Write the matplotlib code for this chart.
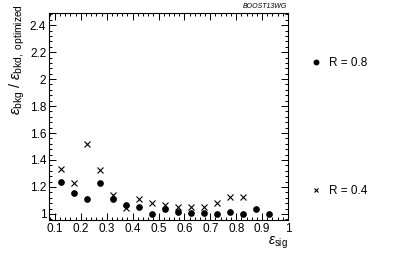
"""Background-efficiency ratio vs signal efficiency, two jet radii (ROOT-style frame)."""

import matplotlib
matplotlib.use("Agg")
import matplotlib.pyplot as plt
from matplotlib.ticker import MultipleLocator

plt.rcParams["font.family"] = ["Liberation Sans", "DejaVu Sans"]
plt.rcParams["mathtext.fontset"] = "custom"
plt.rcParams["mathtext.rm"] = "Liberation Sans"
plt.rcParams["mathtext.it"] = "Liberation Sans:italic"

eff_sig = [0.125, 0.175, 0.225, 0.275, 0.325, 0.375, 0.425, 0.475, 0.525,
           0.575, 0.625, 0.675, 0.725, 0.775, 0.825, 0.875, 0.925]
ratio_r08 = [1.235, 1.153, 1.111, 1.227, 1.111, 1.064, 1.050, 1.000, 1.037,
             1.017, 1.007, 1.010, 1.002, 1.017, 1.000, 1.040, 1.000]
eff_sig_r04 = eff_sig[:15]
ratio_r04 = [1.333, 1.232, 1.520, 1.328, 1.138, 1.047, 1.114, 1.079, 1.069,
             1.054, 1.050, 1.050, 1.084, 1.128, 1.123]

fig = plt.figure(figsize=(3.99, 2.54), dpi=100)
ax = fig.add_axes([0.1228, 0.1339, 0.599, 0.8149])

p1, = ax.plot(eff_sig, ratio_r08, ls="none", marker="o", ms=3.8,
              color="black", label="R = 0.8")
p2, = ax.plot(eff_sig_r04, ratio_r04, ls="none", marker="x", ms=4.2,
              mew=0.8, color="black", label="R = 0.4")

ax.set_xlim(0.077, 1.0)
ax.set_ylim(0.955, 2.49)
ax.xaxis.set_major_locator(MultipleLocator(0.1))
ax.xaxis.set_minor_locator(MultipleLocator(0.02))
ax.yaxis.set_major_locator(MultipleLocator(0.2))
ax.yaxis.set_minor_locator(MultipleLocator(0.04))
ax.xaxis.set_major_formatter(plt.FuncFormatter(lambda v, _: f"{v:g}"))
ax.yaxis.set_major_formatter(plt.FuncFormatter(lambda v, _: f"{v:g}"))
ax.tick_params(which="both", direction="in", top=True, right=True,
               labelsize=8.5, width=0.7, pad=2)
ax.tick_params(which="major", length=5)
ax.tick_params(which="minor", length=2.5)
for s in ax.spines.values():
    s.set_linewidth(0.8)

fig.text(288 / 399, 1 - 243 / 254, r"$\varepsilon_{\mathrm{sig}}$",
         ha="right", va="center", fontsize=10)
fig.text(17 / 399, 1 - 4 / 254,
         r"$\varepsilon_{\mathrm{bkg}}$ / $\varepsilon_{\mathrm{bkd,\ optimized}}$",
         rotation=90, ha="center", va="top", fontsize=10.5)
fig.text(287 / 399, 1 - 6 / 254, "BOOST13WG", ha="right", va="center",
         fontsize=5, style="italic")

for handle, label, ypix in [(p1, "R = 0.8", 63), (p2, "R = 0.4", 191)]:
    fig.legend([handle], [label], loc="center left", frameon=False,
               bbox_to_anchor=(299 / 399, 1 - ypix / 254), fontsize=8.5,
               handlelength=1.0, handletextpad=0.6, markerscale=0.85)

fig.savefig("out.png", dpi=100)
